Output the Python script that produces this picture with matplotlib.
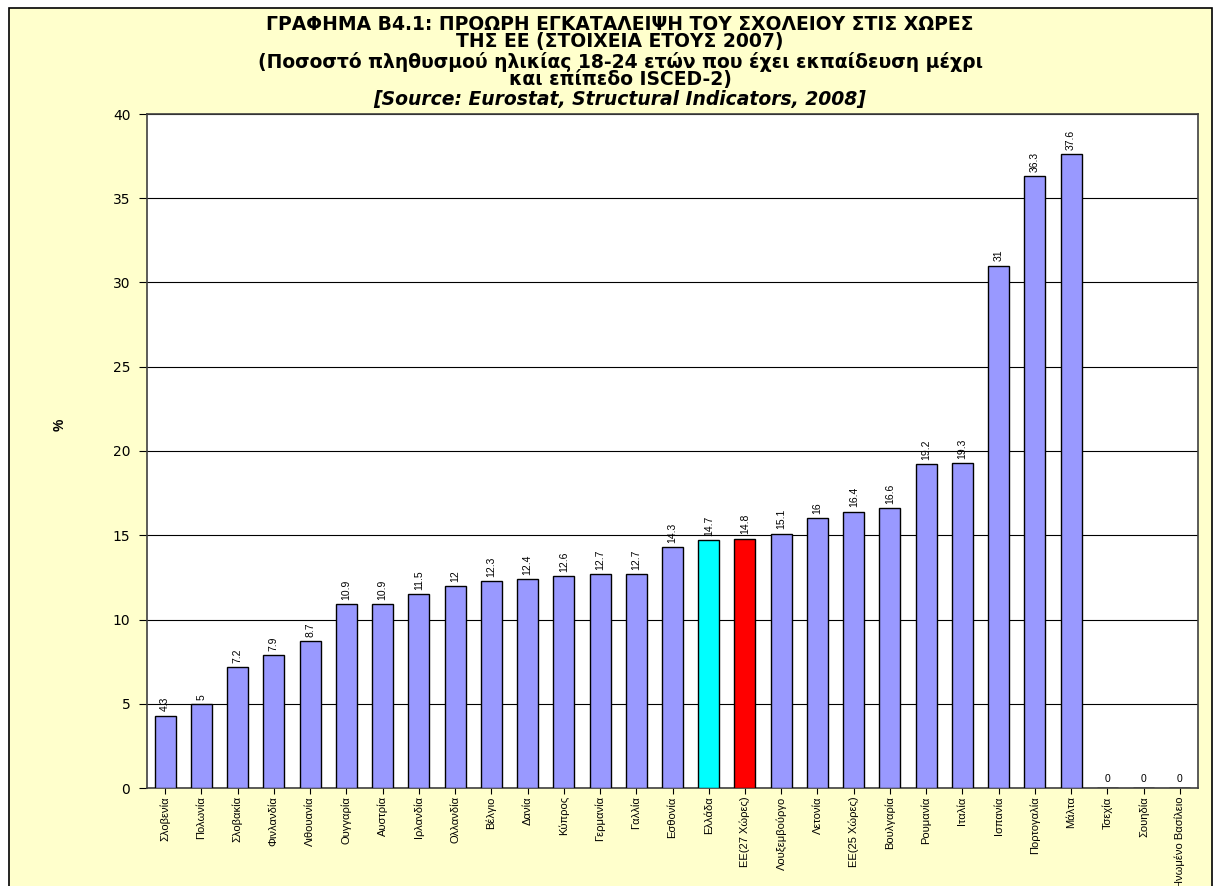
import matplotlib
matplotlib.use("Agg")
import matplotlib.pyplot as plt
from matplotlib.patches import Rectangle

plt.rcParams['font.family'] = ['Liberation Sans', 'DejaVu Sans']

countries = ["Σλοβενία", "Πολωνία", "Σλοβακία", "Φινλανδία", "Λιθουανία", "Ουγγαρία",
             "Αυστρία", "Ιρλανδία", "Ολλανδία", "Βέλγιο", "Δανία", "Κύπρος", "Γερμανία",
             "Γαλλία", "Εσθονία", "Ελλάδα", "ΕΕ(27 Χώρες)", "Λουξεμβούργο", "Λετονία",
             "ΕΕ(25 Χώρες)", "Βουλγαρία", "Ρουμανία", "Ιταλία", "Ισπανία", "Πορτογαλία",
             "Μάλτα", "Τσεχία", "Σουηδία", "Ηνωμένο Βασίλειο"]
values = [4.3, 5, 7.2, 7.9, 8.7, 10.9, 10.9, 11.5, 12, 12.3, 12.4, 12.6, 12.7,
          12.7, 14.3, 14.7, 14.8, 15.1, 16, 16.4, 16.6, 19.2, 19.3, 31, 36.3,
          37.6, 0, 0, 0]
yticks = [0, 5, 10, 15, 20, 25, 30, 35, 40]
title_lines = ["ΓΡΑΦΗΜΑ B4.1: ΠΡΟΩΡΗ ΕΓΚΑΤΑΛΕΙΨΗ ΤΟΥ ΣΧΟΛΕΙΟΥ ΣΤΙΣ ΧΩΡΕΣ",
               "ΤΗΣ ΕΕ (ΣΤΟΙΧΕΙΑ ΕΤΟΥΣ 2007)",
               "(Ποσοστό πληθυσμού ηλικίας 18-24 ετών που έχει εκπαίδευση μέχρι",
               "και επίπεδο ISCED-2)"]
source = "[Source: Eurostat, Structural Indicators, 2008]"

colors = []
for c in countries:
    if c == "Ελλάδα":
        colors.append("#00FFFF")
    elif c == "ΕΕ(27 Χώρες)":
        colors.append("#FF0000")
    else:
        colors.append("#9999FF")

W, H = 1220, 886
fig = plt.figure(figsize=(W / 100, H / 100), dpi=100)
fig.patch.set_facecolor("white")
fig.patches.append(Rectangle((9 / W, -0.01), (1212 - 9) / W, 1 - 8 / H + 0.01,
                             transform=fig.transFigure, facecolor="#FFFFCC",
                             edgecolor="black", linewidth=1.2, zorder=-5))

ax = fig.add_axes([147 / W, 1 - 788 / H, (1198 - 147) / W, (788 - 114) / H])
ax.set_zorder(2)
ax.set_facecolor("white")
x = list(range(len(countries)))
ax.bar(x, values, width=0.58, color=colors, edgecolor="black", linewidth=1.0, zorder=3)
ax.set_xlim(-0.5, len(countries) - 0.5)
ax.set_ylim(0, 40)
ax.set_yticks(yticks)
ax.set_yticklabels([str(t) for t in yticks], fontsize=10, family=["DejaVu Sans"])
ax.yaxis.grid(True, color="black", linewidth=0.8, zorder=0)
ax.set_axisbelow(True)
ax.set_xticks(x)
ax.set_xticklabels(countries, rotation=90, fontsize=8)
ax.tick_params(axis="x", length=4, pad=2)
ax.tick_params(axis="y", length=6, pad=6)
for s in ax.spines.values():
    s.set_color("#404040")
    s.set_linewidth(1.2)

for xi, v in zip(x, values):
    lbl = "0" if v == 0 else ("%g" % v)
    ax.annotate(lbl, (xi, v), xytext=(0, 3), textcoords="offset points",
                ha="center", va="bottom", rotation=0 if v == 0 else 90, fontsize=7.5, zorder=4)

fig.text(60 / W, 1 - 425 / H, "%", ha="center", va="center", rotation=90,
         fontsize=10, fontweight="bold")

ys = [24, 42, 62, 80]
for t, yy in zip(title_lines, ys):
    fig.text(620 / W, 1 - yy / H, t, ha="center", va="center", fontsize=13.5,
             fontweight="bold", family=["DejaVu Sans"])
fig.text(620 / W, 1 - 100 / H, source, ha="center", va="center", fontsize=13.5,
         fontweight="bold", fontstyle="italic", family=["DejaVu Sans"])

fig.savefig("out.png", dpi=100, facecolor=fig.get_facecolor())
